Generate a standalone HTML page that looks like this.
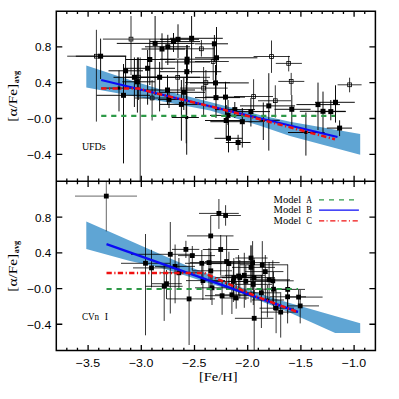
<!DOCTYPE html><html><head><meta charset="utf-8"><style>html,body{margin:0;padding:0;background:#fff}svg{display:block}text{font-family:"Liberation Serif",serif;fill:#000}</style></head><body>
<svg width="399" height="399" viewBox="0 0 399 399">
<rect width="399" height="399" fill="#fff"/>
<polygon fill="#5fa5d4" points="86.3,65.6 130,80 160,89.2 210,102 260,115 290,121.8 360.2,133.9 360.2,154.7 290,136.1 260,125.8 210,110.5 160,101 130,95.5 86.3,87.6"/>
<polygon fill="#5fa5d4" points="86.3,221.5 130,240.8 160,254 190,267.1 217.6,277.6 240,287 280,300.2 360.2,323.2 360.2,332.9 335.2,332.9 289,312.3 240,293 202,281 190,277 160,267.5 130,261 86.3,248.9"/>
<path d="M75.8,56.2H126.3M100.6,38.6V79" stroke="#000" stroke-width="0.95" fill="none"/>
<path d="M108.5,70.8H143M125.6,56.2V88" stroke="#000" stroke-width="0.95" fill="none"/>
<path d="M96.5,95.3H150M123.5,64V163.4" stroke="#000" stroke-width="0.95" fill="none"/>
<path d="M113.5,77.3H160M134.4,57.4V107" stroke="#000" stroke-width="0.95" fill="none"/>
<path d="M122.3,81.8H155M137.4,57.4V112.6" stroke="#000" stroke-width="0.95" fill="none"/>
<path d="M123.5,68.3H175M147.6,50V104.7" stroke="#000" stroke-width="0.95" fill="none"/>
<path d="M125.8,59.5H175M149.8,39.3V85" stroke="#000" stroke-width="0.95" fill="none"/>
<path d="M116.8,43.4H194.6M155.1,16V95" stroke="#000" stroke-width="0.95" fill="none"/>
<path d="M141.6,49H185M162,33.3V70" stroke="#000" stroke-width="0.95" fill="none"/>
<path d="M145,46.8H190M167.8,34.8V65" stroke="#000" stroke-width="0.95" fill="none"/>
<path d="M150,41.6H200M173.5,33V52" stroke="#000" stroke-width="0.95" fill="none"/>
<path d="M160,39.3H199M178,24.3V58" stroke="#000" stroke-width="0.95" fill="none"/>
<path d="M170,38.3H222.8M191.6,16V73.5" stroke="#000" stroke-width="0.95" fill="none"/>
<path d="M195,43.8H228M214.4,35V62" stroke="#000" stroke-width="0.95" fill="none"/>
<path d="M160,59.2H215M187.1,45V80" stroke="#000" stroke-width="0.95" fill="none"/>
<path d="M165,62H210M186.9,45V85" stroke="#000" stroke-width="0.95" fill="none"/>
<path d="M160,71.7H221.3M186.8,50V100" stroke="#000" stroke-width="0.95" fill="none"/>
<path d="M195,57.8H257.4M216.5,27V75" stroke="#000" stroke-width="0.95" fill="none"/>
<path d="M135,77.3H200M159.6,61.9V111.4" stroke="#000" stroke-width="0.95" fill="none"/>
<path d="M140,90H195M167.5,75V105" stroke="#000" stroke-width="0.95" fill="none"/>
<path d="M160,92.3H205M183.8,78V110" stroke="#000" stroke-width="0.95" fill="none"/>
<path d="M160,104.4H205M181.4,80V140.7" stroke="#000" stroke-width="0.95" fill="none"/>
<path d="M158,99.4H182M169,90V108" stroke="#000" stroke-width="0.95" fill="none"/>
<path d="M171.7,117.5H198.9M186.7,60V154.7" stroke="#000" stroke-width="0.95" fill="none"/>
<path d="M186.2,117.5H186.2M186.2,85V143.3" stroke="#000" stroke-width="0.8" fill="none"/>
<path d="M190,82.9H248.8M215.5,65V100" stroke="#000" stroke-width="0.95" fill="none"/>
<path d="M195,97.6H240M216,75V118" stroke="#000" stroke-width="0.95" fill="none"/>
<path d="M205,97.1H245M225.5,81.8V115" stroke="#000" stroke-width="0.95" fill="none"/>
<path d="M215,109.6H255M234.8,102V118" stroke="#000" stroke-width="0.95" fill="none"/>
<path d="M230,111.6H270M250.9,98V126.5" stroke="#000" stroke-width="0.95" fill="none"/>
<path d="M210,115.4H245M228,100V125" stroke="#000" stroke-width="0.95" fill="none"/>
<path d="M205,120.5H244.6M226.2,105V138" stroke="#000" stroke-width="0.95" fill="none"/>
<path d="M210.3,121.7H262M242.3,108V147.6" stroke="#000" stroke-width="0.95" fill="none"/>
<path d="M214.5,138.3H242.3M228.5,120.5V152.4" stroke="#000" stroke-width="0.95" fill="none"/>
<path d="M225.8,142.5H250.6M238.1,134.8V150.3" stroke="#000" stroke-width="0.95" fill="none"/>
<path d="M240,105.9H295M268.8,73.2V150.6" stroke="#000" stroke-width="0.95" fill="none"/>
<path d="M259.5,120.3H279.8M263.3,102.5V140" stroke="#000" stroke-width="0.95" fill="none"/>
<path d="M274.5,109.3H310.6M291.8,95V125" stroke="#000" stroke-width="0.95" fill="none"/>
<path d="M288,132.5H324.6M305.9,112.5V155.6" stroke="#000" stroke-width="0.95" fill="none"/>
<path d="M296.4,104.6H340M318,82.6V130" stroke="#000" stroke-width="0.95" fill="none"/>
<path d="M299.8,111.3H345.6M323,91.6V132.3" stroke="#000" stroke-width="0.95" fill="none"/>
<path d="M315,111.6H345.8M330.8,100V120.3" stroke="#000" stroke-width="0.95" fill="none"/>
<path d="M315,102.3H354.8M335.5,85.3V122.6" stroke="#000" stroke-width="0.95" fill="none"/>
<path d="M326.8,128.1H352M339.6,120.3V136.1" stroke="#000" stroke-width="0.95" fill="none"/>
<path d="M101.2,88.1H140M119,70.5V111.4" stroke="#000" stroke-width="0.95" fill="none"/>
<path d="M67.2,56.2H126M96.4,29.8V121.6" stroke="#000" stroke-width="0.8" fill="none"/>
<path d="M102.9,39.1H175M131,16V75" stroke="#000" stroke-width="0.8" fill="none"/>
<path d="M125,77.2H158M138.5,57.4V100" stroke="#000" stroke-width="0.8" fill="none"/>
<path d="M140.2,77.2H140.2M140.2,57.4V181" stroke="#000" stroke-width="0.8" fill="none"/>
<path d="M135,98H170M152.1,80V120.5" stroke="#000" stroke-width="0.8" fill="none"/>
<path d="M150,77.3H210M177.7,60V95" stroke="#000" stroke-width="0.8" fill="none"/>
<path d="M170,48.8H214M201.4,40V56.6" stroke="#000" stroke-width="0.8" fill="none"/>
<path d="M195,61.5H228.8M213.2,45V80" stroke="#000" stroke-width="0.8" fill="none"/>
<path d="M185,82.6H230M205.9,70V100" stroke="#000" stroke-width="0.8" fill="none"/>
<path d="M180,88.1H227.7M203.6,67V115" stroke="#000" stroke-width="0.8" fill="none"/>
<path d="M234,96.5H273M253.6,79.2V109.6" stroke="#000" stroke-width="0.8" fill="none"/>
<path d="M253.6,56.5H289.9M271.5,40.5V72.9" stroke="#000" stroke-width="0.8" fill="none"/>
<path d="M275.8,63.4H301.9M288.7,55.9V71.4" stroke="#000" stroke-width="0.8" fill="none"/>
<path d="M278.3,81.4H304.3M291.2,72.9V95" stroke="#000" stroke-width="0.8" fill="none"/>
<path d="M258,100.75H291M275.3,85.3V117.6" stroke="#000" stroke-width="0.8" fill="none"/>
<path d="M337.6,84.8H361.6M349.6,77.7V92.3" stroke="#000" stroke-width="0.8" fill="none"/>
<rect x="98.1" y="53.7" width="5.0" height="5.0" fill="#000"/>
<rect x="123.1" y="68.3" width="5.0" height="5.0" fill="#000"/>
<rect x="121.0" y="92.8" width="5.0" height="5.0" fill="#000"/>
<rect x="131.9" y="74.8" width="5.0" height="5.0" fill="#000"/>
<rect x="134.9" y="79.3" width="5.0" height="5.0" fill="#000"/>
<rect x="145.1" y="65.8" width="5.0" height="5.0" fill="#000"/>
<rect x="147.3" y="57.0" width="5.0" height="5.0" fill="#000"/>
<rect x="152.6" y="40.9" width="5.0" height="5.0" fill="#000"/>
<rect x="159.5" y="46.5" width="5.0" height="5.0" fill="#000"/>
<rect x="165.3" y="44.3" width="5.0" height="5.0" fill="#000"/>
<rect x="171.0" y="39.1" width="5.0" height="5.0" fill="#000"/>
<rect x="175.5" y="36.8" width="5.0" height="5.0" fill="#000"/>
<rect x="189.1" y="35.8" width="5.0" height="5.0" fill="#000"/>
<rect x="211.9" y="41.3" width="5.0" height="5.0" fill="#000"/>
<rect x="184.6" y="56.7" width="5.0" height="5.0" fill="#000"/>
<rect x="184.4" y="59.5" width="5.0" height="5.0" fill="#000"/>
<rect x="184.3" y="69.2" width="5.0" height="5.0" fill="#000"/>
<rect x="214.0" y="55.3" width="5.0" height="5.0" fill="#000"/>
<rect x="157.1" y="74.8" width="5.0" height="5.0" fill="#000"/>
<rect x="165.0" y="87.5" width="5.0" height="5.0" fill="#000"/>
<rect x="181.3" y="89.8" width="5.0" height="5.0" fill="#000"/>
<rect x="178.9" y="101.9" width="5.0" height="5.0" fill="#000"/>
<rect x="166.5" y="96.9" width="5.0" height="5.0" fill="#000"/>
<rect x="185.2" y="116.0" width="3" height="3" fill="#000"/>
<rect x="213.0" y="80.4" width="5.0" height="5.0" fill="#000"/>
<rect x="213.5" y="95.1" width="5.0" height="5.0" fill="#000"/>
<rect x="223.0" y="94.6" width="5.0" height="5.0" fill="#000"/>
<rect x="232.3" y="107.1" width="5.0" height="5.0" fill="#000"/>
<rect x="248.4" y="109.1" width="5.0" height="5.0" fill="#000"/>
<rect x="225.5" y="112.9" width="5.0" height="5.0" fill="#000"/>
<rect x="223.7" y="118.0" width="5.0" height="5.0" fill="#000"/>
<rect x="239.8" y="119.2" width="5.0" height="5.0" fill="#000"/>
<rect x="226.0" y="135.8" width="5.0" height="5.0" fill="#000"/>
<rect x="235.6" y="140.0" width="5.0" height="5.0" fill="#000"/>
<rect x="266.3" y="103.4" width="5.0" height="5.0" fill="#000"/>
<rect x="261.8" y="118.8" width="3" height="3" fill="#000"/>
<rect x="289.3" y="106.8" width="5.0" height="5.0" fill="#000"/>
<rect x="304.4" y="131.0" width="3" height="3" fill="#000"/>
<rect x="315.5" y="102.1" width="5.0" height="5.0" fill="#000"/>
<rect x="320.5" y="108.8" width="5.0" height="5.0" fill="#000"/>
<rect x="328.3" y="109.1" width="5.0" height="5.0" fill="#000"/>
<rect x="333.0" y="99.8" width="5.0" height="5.0" fill="#000"/>
<rect x="337.1" y="125.6" width="5.0" height="5.0" fill="#000"/>
<rect x="117.5" y="86.6" width="3" height="3" fill="#000"/>
<rect x="94.5" y="54.3" width="3.8" height="3.8" fill="none" stroke="#000" stroke-width="0.8"/>
<rect x="129.1" y="37.2" width="3.8" height="3.8" fill="none" stroke="#000" stroke-width="0.8"/>
<rect x="136.6" y="75.3" width="3.8" height="3.8" fill="none" stroke="#000" stroke-width="0.8"/>
<rect x="150.2" y="96.1" width="3.8" height="3.8" fill="none" stroke="#000" stroke-width="0.8"/>
<rect x="175.8" y="75.4" width="3.8" height="3.8" fill="none" stroke="#000" stroke-width="0.8"/>
<rect x="199.5" y="46.9" width="3.8" height="3.8" fill="none" stroke="#000" stroke-width="0.8"/>
<rect x="211.3" y="59.6" width="3.8" height="3.8" fill="none" stroke="#000" stroke-width="0.8"/>
<rect x="204.0" y="80.7" width="3.8" height="3.8" fill="none" stroke="#000" stroke-width="0.8"/>
<rect x="201.7" y="86.2" width="3.8" height="3.8" fill="none" stroke="#000" stroke-width="0.8"/>
<rect x="251.7" y="94.6" width="3.8" height="3.8" fill="none" stroke="#000" stroke-width="0.8"/>
<rect x="269.6" y="54.6" width="3.8" height="3.8" fill="none" stroke="#000" stroke-width="0.8"/>
<rect x="286.8" y="61.5" width="3.8" height="3.8" fill="none" stroke="#000" stroke-width="0.8"/>
<rect x="289.3" y="79.5" width="3.8" height="3.8" fill="none" stroke="#000" stroke-width="0.8"/>
<rect x="273.4" y="98.8" width="3.8" height="3.8" fill="none" stroke="#000" stroke-width="0.8"/>
<rect x="347.7" y="82.9" width="3.8" height="3.8" fill="none" stroke="#000" stroke-width="0.8"/>
<path d="M75,196.1H137M106.3,181.3V231.4" stroke="#000" stroke-width="0.6" fill="none"/>
<path d="M121,263.3H170M145.5,234V335.3" stroke="#000" stroke-width="0.8" fill="none"/>
<path d="M133,267.9H175M151.5,249.8V287.5" stroke="#000" stroke-width="0.8" fill="none"/>
<path d="M131,254.3H195M170.3,222V313.5" stroke="#000" stroke-width="0.8" fill="none"/>
<path d="M172,249.4H199.3M185.9,240.8V258" stroke="#000" stroke-width="0.8" fill="none"/>
<path d="M155,266.4H195M175.1,244.5V303.3" stroke="#000" stroke-width="0.8" fill="none"/>
<path d="M160,272.8H198M178.9,258V290" stroke="#000" stroke-width="0.8" fill="none"/>
<path d="M152,283.7H181.8M166.5,270V299" stroke="#000" stroke-width="0.8" fill="none"/>
<path d="M145.4,286.3H182.6M164.2,265V320.9" stroke="#000" stroke-width="0.8" fill="none"/>
<path d="M166.8,298.9H215M189.1,255.8V345" stroke="#000" stroke-width="0.8" fill="none"/>
<path d="M199,213.4H238.8M218.9,199V228.9" stroke="#000" stroke-width="0.8" fill="none"/>
<path d="M210.7,215.5H240.9M225.6,205.2V225.7" stroke="#000" stroke-width="0.8" fill="none"/>
<path d="M187,235.9H233.5M210.7,215.5V265" stroke="#000" stroke-width="0.8" fill="none"/>
<path d="M202.8,249.5H238.8M220.7,235V275" stroke="#000" stroke-width="0.8" fill="none"/>
<path d="M178,255.6H215M192.3,246V270" stroke="#000" stroke-width="0.8" fill="none"/>
<path d="M185,263.3H222M201.8,250V285" stroke="#000" stroke-width="0.8" fill="none"/>
<path d="M190,262.6H230M209,248V290" stroke="#000" stroke-width="0.8" fill="none"/>
<path d="M192,270.8H232M210.8,252V300" stroke="#000" stroke-width="0.8" fill="none"/>
<path d="M205,261.5H250M226.6,235.9V290" stroke="#000" stroke-width="0.8" fill="none"/>
<path d="M208,263.6H252M228.9,251.7V285" stroke="#000" stroke-width="0.8" fill="none"/>
<path d="M186,280.6H225M202.9,262V300" stroke="#000" stroke-width="0.8" fill="none"/>
<path d="M195,287.8H232M212,270V305" stroke="#000" stroke-width="0.8" fill="none"/>
<path d="M205,295.7H249M222.1,280V314.8" stroke="#000" stroke-width="0.8" fill="none"/>
<path d="M215,277.6H255M233.8,258V300" stroke="#000" stroke-width="0.8" fill="none"/>
<path d="M214,281.4H256M233.4,262V302" stroke="#000" stroke-width="0.8" fill="none"/>
<path d="M215,294.8H250M231.9,278V314" stroke="#000" stroke-width="0.8" fill="none"/>
<path d="M220,298H249M236.2,282V308.7" stroke="#000" stroke-width="0.8" fill="none"/>
<path d="M220,276H262M238.6,255V295" stroke="#000" stroke-width="0.8" fill="none"/>
<path d="M235.3,258H267.6M251,245.3V280" stroke="#000" stroke-width="0.8" fill="none"/>
<path d="M230,262.6H279.6M252.6,241.1V290" stroke="#000" stroke-width="0.8" fill="none"/>
<path d="M232,267.4H275M251,245.5V302.5" stroke="#000" stroke-width="0.8" fill="none"/>
<path d="M240,264.8H287.9M262.3,241.1V295" stroke="#000" stroke-width="0.8" fill="none"/>
<path d="M245,271.6H283.4M265.3,255V300" stroke="#000" stroke-width="0.8" fill="none"/>
<path d="M225,275.3H265M244.3,252.8V307.8" stroke="#000" stroke-width="0.8" fill="none"/>
<path d="M222,277.6H260M239.8,260V298" stroke="#000" stroke-width="0.8" fill="none"/>
<path d="M235,277.6H275M254,258V300" stroke="#000" stroke-width="0.8" fill="none"/>
<path d="M228,281.4H268M245.8,265V300" stroke="#000" stroke-width="0.8" fill="none"/>
<path d="M235,284.4H272M253.3,265V305" stroke="#000" stroke-width="0.8" fill="none"/>
<path d="M250,279.8H290M269.1,262V300" stroke="#000" stroke-width="0.8" fill="none"/>
<path d="M255,280.8H293.7M272.8,260.3V305" stroke="#000" stroke-width="0.8" fill="none"/>
<path d="M255,289.2H292M273.5,272V310" stroke="#000" stroke-width="0.8" fill="none"/>
<path d="M245,292.8H280M261.4,275V328" stroke="#000" stroke-width="0.8" fill="none"/>
<path d="M252,300H284M267.4,285V317.5" stroke="#000" stroke-width="0.8" fill="none"/>
<path d="M270,289.4H305M287.7,264.6V314" stroke="#000" stroke-width="0.8" fill="none"/>
<path d="M270,296.8H306M287.6,280V323.4" stroke="#000" stroke-width="0.8" fill="none"/>
<path d="M234.9,318.3H273.5M254.2,290V350" stroke="#000" stroke-width="0.8" fill="none"/>
<path d="M259.5,308.2H294M276.1,290V333.2" stroke="#000" stroke-width="0.8" fill="none"/>
<path d="M261,312.1H298M280.7,292V337.6" stroke="#000" stroke-width="0.8" fill="none"/>
<path d="M285.8,297.1H322.6M298.6,290V307.6" stroke="#000" stroke-width="0.8" fill="none"/>
<path d="M287.5,305.9H319M300.2,290V323.4" stroke="#000" stroke-width="0.8" fill="none"/>
<rect x="103.9" y="193.7" width="4.8" height="4.8" fill="#000"/>
<rect x="143.1" y="260.9" width="4.8" height="4.8" fill="#000"/>
<rect x="149.1" y="265.5" width="4.8" height="4.8" fill="#000"/>
<rect x="167.9" y="251.9" width="4.8" height="4.8" fill="#000"/>
<rect x="183.5" y="247.0" width="4.8" height="4.8" fill="#000"/>
<rect x="172.7" y="264.0" width="4.8" height="4.8" fill="#000"/>
<rect x="176.5" y="270.4" width="4.8" height="4.8" fill="#000"/>
<rect x="164.1" y="281.3" width="4.8" height="4.8" fill="#000"/>
<rect x="161.8" y="283.9" width="4.8" height="4.8" fill="#000"/>
<rect x="186.7" y="296.5" width="4.8" height="4.8" fill="#000"/>
<rect x="216.5" y="211.0" width="4.8" height="4.8" fill="#000"/>
<rect x="223.2" y="213.1" width="4.8" height="4.8" fill="#000"/>
<rect x="208.3" y="233.5" width="4.8" height="4.8" fill="#000"/>
<rect x="218.3" y="247.1" width="4.8" height="4.8" fill="#000"/>
<rect x="189.9" y="253.2" width="4.8" height="4.8" fill="#000"/>
<rect x="199.4" y="260.9" width="4.8" height="4.8" fill="#000"/>
<rect x="206.6" y="260.2" width="4.8" height="4.8" fill="#000"/>
<rect x="208.4" y="268.4" width="4.8" height="4.8" fill="#000"/>
<rect x="224.2" y="259.1" width="4.8" height="4.8" fill="#000"/>
<rect x="226.5" y="261.2" width="4.8" height="4.8" fill="#000"/>
<rect x="200.5" y="278.2" width="4.8" height="4.8" fill="#000"/>
<rect x="209.6" y="285.4" width="4.8" height="4.8" fill="#000"/>
<rect x="219.7" y="293.3" width="4.8" height="4.8" fill="#000"/>
<rect x="231.4" y="275.2" width="4.8" height="4.8" fill="#000"/>
<rect x="231.0" y="279.0" width="4.8" height="4.8" fill="#000"/>
<rect x="229.5" y="292.4" width="4.8" height="4.8" fill="#000"/>
<rect x="233.8" y="295.6" width="4.8" height="4.8" fill="#000"/>
<rect x="236.2" y="273.6" width="4.8" height="4.8" fill="#000"/>
<rect x="248.6" y="255.6" width="4.8" height="4.8" fill="#000"/>
<rect x="250.2" y="260.2" width="4.8" height="4.8" fill="#000"/>
<rect x="248.6" y="265.0" width="4.8" height="4.8" fill="#000"/>
<rect x="259.9" y="262.4" width="4.8" height="4.8" fill="#000"/>
<rect x="262.9" y="269.2" width="4.8" height="4.8" fill="#000"/>
<rect x="241.9" y="272.9" width="4.8" height="4.8" fill="#000"/>
<rect x="237.4" y="275.2" width="4.8" height="4.8" fill="#000"/>
<rect x="251.6" y="275.2" width="4.8" height="4.8" fill="#000"/>
<rect x="243.4" y="279.0" width="4.8" height="4.8" fill="#000"/>
<rect x="250.9" y="282.0" width="4.8" height="4.8" fill="#000"/>
<rect x="266.7" y="277.4" width="4.8" height="4.8" fill="#000"/>
<rect x="270.4" y="278.4" width="4.8" height="4.8" fill="#000"/>
<rect x="271.1" y="286.8" width="4.8" height="4.8" fill="#000"/>
<rect x="259.0" y="290.4" width="4.8" height="4.8" fill="#000"/>
<rect x="265.9" y="298.5" width="3" height="3" fill="#000"/>
<rect x="285.3" y="287.0" width="4.8" height="4.8" fill="#000"/>
<rect x="285.2" y="294.4" width="4.8" height="4.8" fill="#000"/>
<rect x="251.8" y="315.9" width="4.8" height="4.8" fill="#000"/>
<rect x="273.7" y="305.8" width="4.8" height="4.8" fill="#000"/>
<rect x="278.3" y="309.7" width="4.8" height="4.8" fill="#000"/>
<rect x="296.2" y="294.7" width="4.8" height="4.8" fill="#000"/>
<rect x="297.8" y="303.5" width="4.8" height="4.8" fill="#000"/>
<line x1="101.2" y1="115.9" x2="335.1" y2="115.9" stroke="#2e9a48" stroke-width="2.1" stroke-dasharray="5.2,4.8"/>
<line x1="101.2" y1="80" x2="337.5" y2="137" stroke="#0a0af5" stroke-width="2.3"/>
<polyline points="101.2,88.6 139,88.6 150,91.8 220,108.7 335,139.3" fill="none" stroke="#f01010" stroke-width="2.5" stroke-dasharray="5.3,2.5,1.2,2.3"/>
<line x1="106.5" y1="289" x2="298" y2="289" stroke="#2e9a48" stroke-width="2.1" stroke-dasharray="5.2,4.8"/>
<line x1="106.5" y1="244.1" x2="298" y2="311.8" stroke="#0a0af5" stroke-width="2.3"/>
<polyline points="106.5,272.9 204,272.9 256,296.4 297.5,312" fill="none" stroke="#f01010" stroke-width="2.5" stroke-dasharray="5.3,2.5,1.2,2.3"/>
<path d="M56.3,11.2H375.4V350.6H56.3Z M56.3,181.3H375.4" fill="none" stroke="#000" stroke-width="1.5"/>
<path d="M66.82,11.2v2.9 M66.82,178.4v5.8 M66.82,350.6v-2.9 M77.46,11.2v2.9 M77.46,178.4v5.8 M77.46,350.6v-2.9 M88.10,11.2v5.6 M88.10,175.70000000000002v11.2 M88.10,350.6v-5.6 M98.74,11.2v2.9 M98.74,178.4v5.8 M98.74,350.6v-2.9 M109.38,11.2v2.9 M109.38,178.4v5.8 M109.38,350.6v-2.9 M120.02,11.2v2.9 M120.02,178.4v5.8 M120.02,350.6v-2.9 M130.66,11.2v2.9 M130.66,178.4v5.8 M130.66,350.6v-2.9 M141.30,11.2v5.6 M141.30,175.70000000000002v11.2 M141.30,350.6v-5.6 M151.94,11.2v2.9 M151.94,178.4v5.8 M151.94,350.6v-2.9 M162.58,11.2v2.9 M162.58,178.4v5.8 M162.58,350.6v-2.9 M173.22,11.2v2.9 M173.22,178.4v5.8 M173.22,350.6v-2.9 M183.86,11.2v2.9 M183.86,178.4v5.8 M183.86,350.6v-2.9 M194.50,11.2v5.6 M194.50,175.70000000000002v11.2 M194.50,350.6v-5.6 M205.14,11.2v2.9 M205.14,178.4v5.8 M205.14,350.6v-2.9 M215.78,11.2v2.9 M215.78,178.4v5.8 M215.78,350.6v-2.9 M226.42,11.2v2.9 M226.42,178.4v5.8 M226.42,350.6v-2.9 M237.06,11.2v2.9 M237.06,178.4v5.8 M237.06,350.6v-2.9 M247.70,11.2v5.6 M247.70,175.70000000000002v11.2 M247.70,350.6v-5.6 M258.34,11.2v2.9 M258.34,178.4v5.8 M258.34,350.6v-2.9 M268.98,11.2v2.9 M268.98,178.4v5.8 M268.98,350.6v-2.9 M279.62,11.2v2.9 M279.62,178.4v5.8 M279.62,350.6v-2.9 M290.26,11.2v2.9 M290.26,178.4v5.8 M290.26,350.6v-2.9 M300.90,11.2v5.6 M300.90,175.70000000000002v11.2 M300.90,350.6v-5.6 M311.54,11.2v2.9 M311.54,178.4v5.8 M311.54,350.6v-2.9 M322.18,11.2v2.9 M322.18,178.4v5.8 M322.18,350.6v-2.9 M332.82,11.2v2.9 M332.82,178.4v5.8 M332.82,350.6v-2.9 M343.46,11.2v2.9 M343.46,178.4v5.8 M343.46,350.6v-2.9 M354.10,11.2v5.6 M354.10,175.70000000000002v11.2 M354.10,350.6v-5.6 M364.74,11.2v2.9 M364.74,178.4v5.8 M364.74,350.6v-2.9 M56.3,46.90h6 M375.4,46.90h-6 M56.3,217.20h6 M375.4,217.20h-6 M56.3,82.70h6 M375.4,82.70h-6 M56.3,252.88h6 M375.4,252.88h-6 M56.3,118.50h6 M375.4,118.50h-6 M56.3,288.56h6 M375.4,288.56h-6 M56.3,154.30h6 M375.4,154.30h-6 M56.3,324.24h6 M375.4,324.24h-6" fill="none" stroke="#000" stroke-width="1.3"/>
<text x="35.0" y="51.2" font-size="11.6" text-anchor="start" textLength="16.3" lengthAdjust="spacingAndGlyphs" style="font-family:'Liberation Sans',sans-serif">0.8</text>
<text x="35.0" y="221.5" font-size="11.6" text-anchor="start" textLength="16.3" lengthAdjust="spacingAndGlyphs" style="font-family:'Liberation Sans',sans-serif">0.8</text>
<text x="35.0" y="87.0" font-size="11.6" text-anchor="start" textLength="16.3" lengthAdjust="spacingAndGlyphs" style="font-family:'Liberation Sans',sans-serif">0.4</text>
<text x="35.0" y="257.2" font-size="11.6" text-anchor="start" textLength="16.3" lengthAdjust="spacingAndGlyphs" style="font-family:'Liberation Sans',sans-serif">0.4</text>
<text x="26.9" y="122.8" font-size="11.6" text-anchor="start" textLength="24.4" lengthAdjust="spacingAndGlyphs" style="font-family:'Liberation Sans',sans-serif">−0.0</text>
<text x="26.9" y="292.9" font-size="11.6" text-anchor="start" textLength="24.4" lengthAdjust="spacingAndGlyphs" style="font-family:'Liberation Sans',sans-serif">−0.0</text>
<text x="26.9" y="158.6" font-size="11.6" text-anchor="start" textLength="24.4" lengthAdjust="spacingAndGlyphs" style="font-family:'Liberation Sans',sans-serif">−0.4</text>
<text x="26.9" y="328.5" font-size="11.6" text-anchor="start" textLength="24.4" lengthAdjust="spacingAndGlyphs" style="font-family:'Liberation Sans',sans-serif">−0.4</text>
<text x="75.7" y="367.3" font-size="11.6" text-anchor="start" textLength="24.4" lengthAdjust="spacingAndGlyphs" style="font-family:'Liberation Sans',sans-serif">−3.5</text>
<text x="128.9" y="367.3" font-size="11.6" text-anchor="start" textLength="24.4" lengthAdjust="spacingAndGlyphs" style="font-family:'Liberation Sans',sans-serif">−3.0</text>
<text x="182.1" y="367.3" font-size="11.6" text-anchor="start" textLength="24.4" lengthAdjust="spacingAndGlyphs" style="font-family:'Liberation Sans',sans-serif">−2.5</text>
<text x="235.3" y="367.3" font-size="11.6" text-anchor="start" textLength="24.4" lengthAdjust="spacingAndGlyphs" style="font-family:'Liberation Sans',sans-serif">−2.0</text>
<text x="288.5" y="367.3" font-size="11.6" text-anchor="start" textLength="24.4" lengthAdjust="spacingAndGlyphs" style="font-family:'Liberation Sans',sans-serif">−1.5</text>
<text x="341.7" y="367.3" font-size="11.6" text-anchor="start" textLength="24.4" lengthAdjust="spacingAndGlyphs" style="font-family:'Liberation Sans',sans-serif">−1.0</text>
<text x="199" y="380.9" font-size="12.2" text-anchor="start" textLength="38.5" lengthAdjust="spacingAndGlyphs">[Fe/H]</text>
<text transform="translate(17,121.75) rotate(-90)" font-size="12.6" textLength="38" lengthAdjust="spacingAndGlyphs">[α/Fe]</text>
<text transform="translate(18.8,83.2) rotate(-90)" font-size="7.4" font-weight="bold" textLength="12.3" lengthAdjust="spacingAndGlyphs">avg</text>
<text transform="translate(17,291.75) rotate(-90)" font-size="12.6" textLength="38" lengthAdjust="spacingAndGlyphs">[α/Fe]</text>
<text transform="translate(18.8,253.2) rotate(-90)" font-size="7.4" font-weight="bold" textLength="12.3" lengthAdjust="spacingAndGlyphs">avg</text>
<text x="81.9" y="150" font-size="9.8" text-anchor="start" textLength="23.8" lengthAdjust="spacingAndGlyphs">UFDs</text>
<text x="81.9" y="320" font-size="9.8" text-anchor="start" textLength="17.2" lengthAdjust="spacingAndGlyphs">CVn</text>
<text x="104.8" y="320" font-size="9.8" text-anchor="start">I</text>
<text x="273.6" y="202.5" font-size="9.8" text-anchor="start" textLength="27.6" lengthAdjust="spacingAndGlyphs">Model</text>
<text x="306.2" y="202.5" font-size="9.8" text-anchor="start" textLength="5.7" lengthAdjust="spacingAndGlyphs">A</text>
<line x1="319" y1="199.8" x2="354" y2="199.8" stroke="#2e9a48" stroke-width="1.35" stroke-dasharray="5,5"/>
<text x="273.6" y="213.2" font-size="9.8" text-anchor="start" textLength="27.6" lengthAdjust="spacingAndGlyphs">Model</text>
<text x="306.2" y="213.2" font-size="9.8" text-anchor="start" textLength="5.7" lengthAdjust="spacingAndGlyphs">B</text>
<line x1="319" y1="210.1" x2="358.9" y2="210.1" stroke="#0a0af5" stroke-width="1.35"/>
<text x="273.6" y="223.6" font-size="9.8" text-anchor="start" textLength="27.6" lengthAdjust="spacingAndGlyphs">Model</text>
<text x="306.2" y="223.6" font-size="9.8" text-anchor="start" textLength="5.7" lengthAdjust="spacingAndGlyphs">C</text>
<line x1="319" y1="220.8" x2="357.8" y2="220.8" stroke="#f01010" stroke-width="1.35" stroke-dasharray="5.2,2.3,1.1,2.6"/>
</svg></body></html>
